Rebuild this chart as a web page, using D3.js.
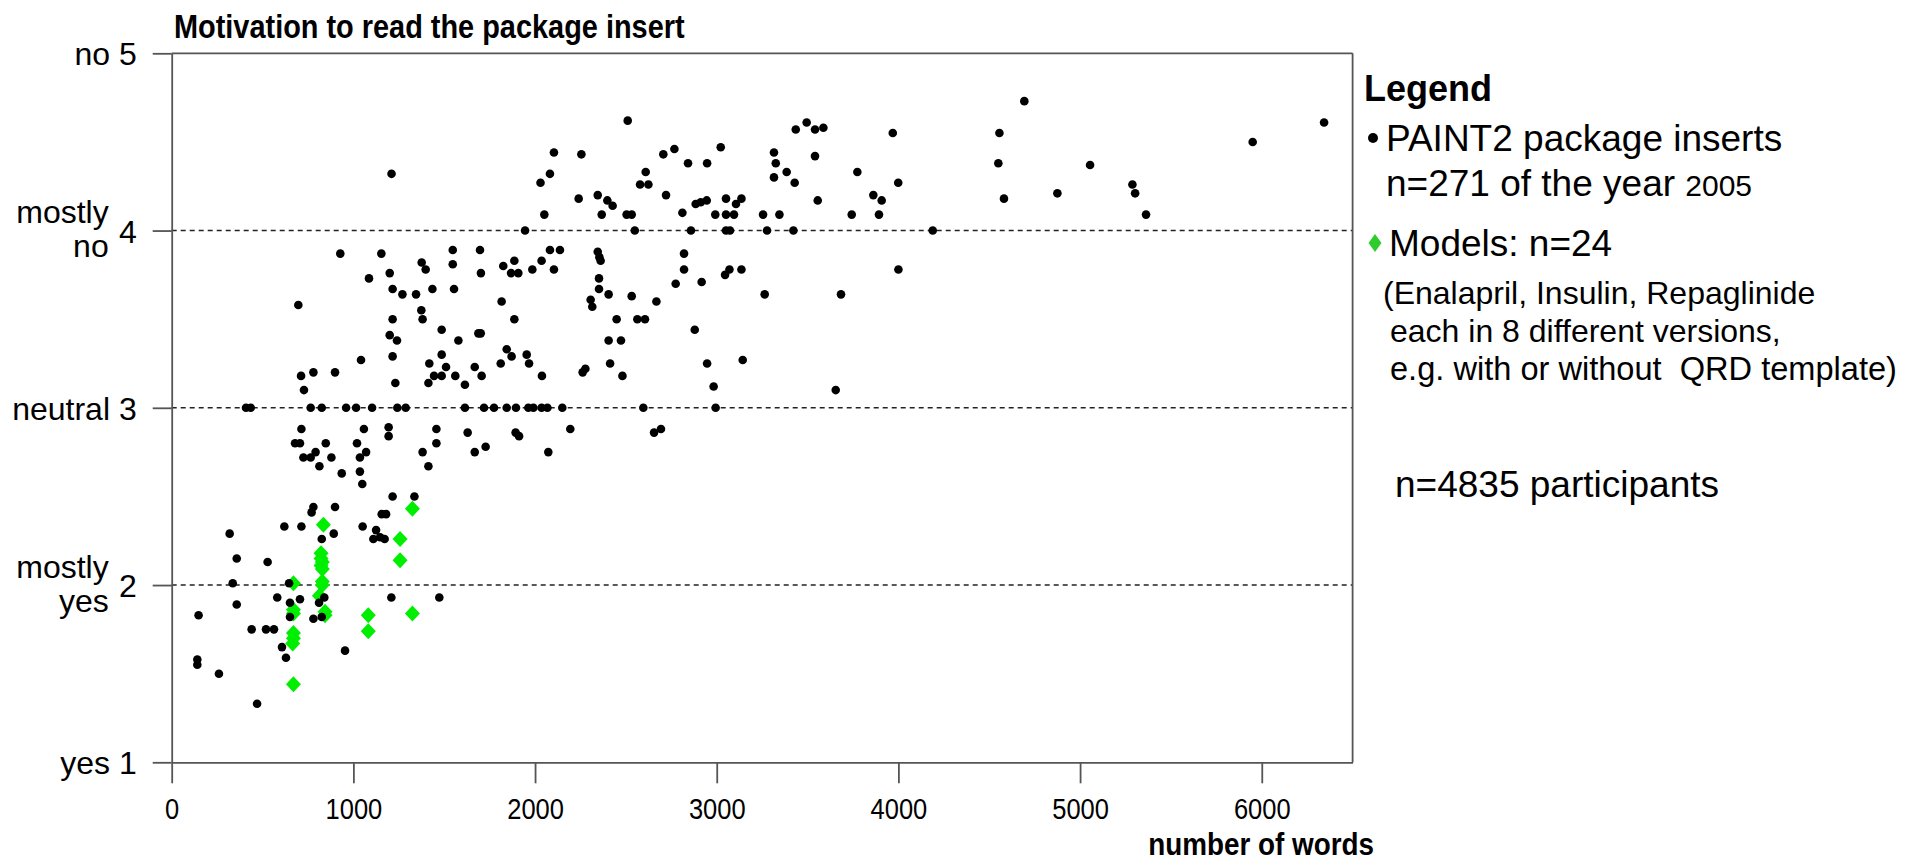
<!DOCTYPE html>
<html><head><meta charset="utf-8">
<script src="https://cdn.jsdelivr.net/npm/d3@7"></script>
<style>
html,body{margin:0;padding:0;background:#fff;}
svg{display:block;font-family:"Liberation Sans",Arial,sans-serif;}
</style>
</head><body>
<svg id="chart" width="1907" height="862"></svg>
<script>
// ---------------- data ----------------
const insertWords = [
2051,1945,928,1154,1547,1697,1376,1398,1547,1825,1886,1985,2036,1086,1200,1702,1868,1908,1216,1270,1345,1435,1554,697,1374,1381,1216,1816,1886,1486,1200,1240,1578,1688,1701,1216,1486,1844,1871,1954,1967,1042,1418,1510,1668,1811,712,780,899,728,1231,1413,1444,1486,1561,1614,1706,2038,
409,435,765,826,960,1015,1103,1242,1288,1614,1719,1774,1844,1895,1963,1991,2036,2068,
714,1058,1194,1194,1457,679,706,848,1020,1457,1629,1893,1912,725,765,792,879,813,936,1036,1070,1036,1049,1381,1413,1668,1728,2073,1216,1336,780,770,899,1156,1180,620,714,1051,1125,1110,1147,1172,319,826,892,358,528,336,646,358,581,651,706,811,840,651,780,826,1209,1473,148,440,519,563,607,629,954,141,141,260,470,
2104,2082,2255,2510,2609,2578,2624,2706,2767,2842,2947,3022,2721,2811,2240,2345,2398,2427,2367,2504,2532,2549,2858,2884,2912,2945,2992,3051,3051,3095,3106,3136,3051,3073,3255,3277,3315,3325,3315,3385,3429,3345,3422,3435,3495,3541,3587,3541,3556,3774,3743,3862,3908,3893,3969,3999,4189,4556,4550,
2082,2137,2104,2345,2354,2361,2352,2352,2306,2315,2405,2449,2405,2473,2413,2481,2262,2277,2532,2563,2605,2668,2774,2820,2820,2917,2879,2947,2983,3046,3070,3136,3143,3264,3684,3655,4000,
4693,4581,4875,5055,5288,5303,5363,5950,6343,
2150,2596,2994,2194,2655,2693,
1210,2030
];
const insertScores = [
4.09,4.00,3.87,3.87,3.89,3.89,3.82,3.78,3.81,3.80,3.83,3.78,3.83,3.73,3.76,3.76,3.76,3.76,3.67,3.64,3.64,3.67,3.67,3.58,3.55,3.50,3.50,3.60,3.50,3.44,3.41,3.38,3.38,3.42,3.42,3.29,3.30,3.33,3.29,3.30,3.25,3.27,3.25,3.23,3.23,3.25,3.18,3.20,3.20,3.10,3.14,3.14,3.18,3.18,3.18,3.13,3.18,3.18,
3,3,3,3,3,3,3,3,3,3,3,3,3,3,3,3,3,3,
2.88,2.88,2.89,2.84,2.88,2.80,2.80,2.80,2.80,2.80,2.86,2.86,2.84,2.72,2.72,2.75,2.72,2.67,2.63,2.72,2.75,2.64,2.57,2.75,2.67,2.75,2.78,2.75,2.50,2.50,2.44,2.41,2.44,2.40,2.40,2.33,2.33,2.33,2.31,2.26,2.27,2.26,2.29,2.26,2.29,2.15,2.13,2.01,2.01,1.89,1.93,1.90,1.92,1.90,1.93,1.82,1.81,1.82,1.93,1.93,1.83,1.75,1.75,1.75,1.65,1.59,1.63,1.58,1.55,1.50,1.33,
4.44,4.32,4.43,4.62,4.33,4.26,4.26,4.43,4.46,4.38,4.38,4.47,4.20,4.10,4.18,4.20,4.17,4.14,4.09,4.09,4.09,4.00,4.00,4.15,4.16,4.17,4.09,4.18,4.09,4.09,4.15,4.18,4.00,4.00,4.09,4.00,4.44,4.38,4.30,4.33,4.27,4.09,4.00,4.57,4.61,4.57,4.58,4.42,4.17,4.33,4.09,4.20,4.17,4.09,4.55,4.27,4.00,4.55,4.38,
3.89,3.89,3.78,3.88,3.85,3.83,3.73,3.67,3.61,3.57,3.64,3.50,3.38,3.38,3.25,3.18,3.20,3.22,3.63,3.50,3.50,3.60,3.70,3.87,3.78,3.71,3.44,3.25,3.12,3.75,3.78,3.78,3.27,3.64,3.64,3.10,3.78,
4.73,4.18,4.21,4.37,4.26,4.21,4.09,4.50,4.61,
3,3,3,2.88,2.86,2.88,
4.32,4.27
];
const modelWords = [670,835,822,822,822,829,829,829,813,1257,1257,1325,670,844,1082,1082,1325,670,666,670,670,829,844,670];
const modelScores = [2.01,2.34,2.18,2.15,2.11,2.09,2.02,2.00,1.94,2.26,2.14,2.43,1.84,1.83,1.83,1.74,1.84,1.73,1.67,1.44,1.70,2.13,1.85,1.86];

const xTicks = [0,1000,2000,3000,4000,5000,6000];
const yTicks = [1,2,3,4,5];
const yWords = {1:["yes"],2:["mostly","yes"],3:["neutral"],4:["mostly","no"],5:["no"]};
const gridValues = [2,3,4];

const titleText = "Motivation to read the package insert";
const xLabelText = "number of words";

// ---------------- drawing ----------------
const svg = d3.select("#chart");
const x = d3.scaleLinear().domain([0,6500]).range([171.7,1352.6]);
const y = d3.scaleLinear().domain([1,5]).range([762.3,53.3]);
const axisColor = "#555";
const diamondPath = (w,h) => `M0,${-h}L${w},0L0,${h}L${-w},0Z`;

// grid
svg.append("g").selectAll("line").data(gridValues).join("line")
  .attr("x1", x(0)).attr("x2", x(6500))
  .attr("y1", d=>y(d)).attr("y2", d=>y(d))
  .attr("stroke","#222").attr("stroke-width",1.4).attr("stroke-dasharray","5,4");

// frame top and right
svg.append("line").attr("x1",x(0)).attr("x2",x(6500)).attr("y1",y(5)).attr("y2",y(5))
  .attr("stroke",axisColor).attr("stroke-width",1.8);
svg.append("line").attr("x1",x(6500)).attr("x2",x(6500)).attr("y1",y(5)).attr("y2",y(1))
  .attr("stroke",axisColor).attr("stroke-width",1.8);

// x axis
const gx = svg.append("g").attr("transform",`translate(0,${y(1)})`)
  .call(d3.axisBottom(x).tickValues(xTicks).tickSize(21).tickSizeOuter(0).tickFormat(d3.format("d")));
gx.selectAll("path,line").attr("stroke",axisColor).attr("stroke-width",1.8);
gx.selectAll("text").attr("y",35).attr("dy","0.71em")
  .attr("font-size",30).attr("fill","#000")
  .attr("font-family","'Liberation Sans',Arial,sans-serif")
  .attr("transform","scale(0.85,1)");

// y axis
const gy = svg.append("g").attr("transform",`translate(${x(0)},0)`)
  .call(d3.axisLeft(y).tickValues(yTicks).tickSize(19).tickSizeOuter(0).tickFormat(""));
gy.selectAll("path,line").attr("stroke",axisColor).attr("stroke-width",1.8);
gy.selectAll(".tick").each(function(d){
  const g = d3.select(this);
  const w = yWords[d];
  if (w.length === 1) {
    g.append("text").attr("x",-35).attr("y",11.5).attr("text-anchor","end")
      .attr("font-size",32).attr("fill","#000").text(w[0]+" "+d);
  } else {
    g.append("text").attr("x",-35).attr("y",11.5).attr("text-anchor","end")
      .attr("font-size",32).attr("fill","#000").text(d);
    g.append("text").attr("x",-63).attr("y",-8).attr("text-anchor","end")
      .attr("font-size",32).attr("fill","#000").text(w[0]);
    g.append("text").attr("x",-63).attr("y",26).attr("text-anchor","end")
      .attr("font-size",32).attr("fill","#000").text(w[1]);
  }
});

// title and axis label (condensed bold)
svg.append("text").attr("transform","translate(174,38) scale(0.85,1)")
  .attr("font-size",34).attr("font-weight","bold").text(titleText);
svg.append("text").attr("transform","translate(1374,855) scale(0.87,1)")
  .attr("text-anchor","end").attr("font-size",32).attr("font-weight","bold").text(xLabelText);

// markers
const models = modelWords.map((w,i)=>({w, s:modelScores[i]}));
const inserts = insertWords.map((w,i)=>({w, s:insertScores[i]}));

svg.append("g").selectAll("path").data(models).join("path")
  .attr("d", diamondPath(7.5,8))
  .attr("transform", d=>`translate(${x(d.w)},${y(d.s)})`)
  .attr("fill","#00ee00");

svg.append("g").selectAll("circle").data(inserts).join("circle")
  .attr("cx", d=>x(d.w)).attr("cy", d=>y(d.s)).attr("r",4.3)
  .attr("fill","#000");

// legend
const lg = svg.append("g");
lg.append("text").attr("x",1364).attr("y",101).attr("font-size",36).attr("font-weight","bold").text("Legend");
lg.append("circle").attr("cx",1373).attr("cy",138).attr("r",5).attr("fill","#000");
lg.append("text").attr("x",1386).attr("y",151).attr("font-size",37).text("PAINT2 package inserts");
const t2 = lg.append("text").attr("x",1386).attr("y",196).attr("font-size",37);
t2.append("tspan").text("n=271 of the year ");
t2.append("tspan").attr("font-size",30).text("2005");
lg.append("path").attr("d",diamondPath(6.5,9))
  .attr("transform","translate(1375,243)").attr("fill","#2ecc2e");
lg.append("text").attr("x",1389).attr("y",256).attr("font-size",37).text("Models: n=24");
lg.append("text").attr("x",1383).attr("y",304).attr("font-size",32).text("(Enalapril, Insulin, Repaglinide");
lg.append("text").attr("x",1390).attr("y",342).attr("font-size",32).text("each in 8 different versions,");
lg.append("text").attr("x",1390).attr("y",380).attr("font-size",32.6)
  .style("white-space","pre").text("e.g. with or without  QRD template)");
lg.append("text").attr("x",1395).attr("y",497).attr("font-size",37).text("n=4835 participants");
</script>
</body></html>
